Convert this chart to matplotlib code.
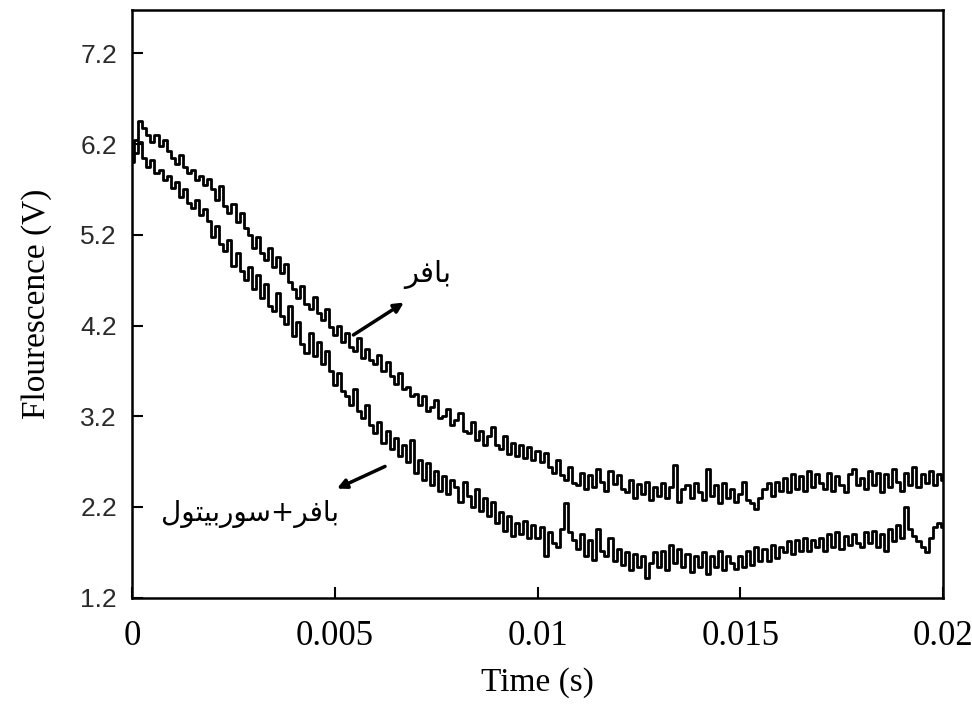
import matplotlib.pyplot as plt
import numpy as np

# time axis in ms (0.1 ms steps)
time_ms = np.arange(0, 201) * 0.1

buffer_vals = [
    6.10, 6.25, 6.45, 6.38, 6.30, 6.22, 6.30, 6.18, 6.25, 6.12,
    6.05, 5.98, 6.08, 5.95, 5.88, 5.92, 5.80, 5.85, 5.75, 5.82,
    5.70, 5.58, 5.74, 5.52, 5.44, 5.54, 5.34, 5.44, 5.28, 5.20,
    5.06, 5.18, 5.00, 4.92, 5.06, 4.84, 4.96, 4.78, 4.88, 4.68,
    4.60, 4.50, 4.64, 4.44, 4.38, 4.52, 4.34, 4.26, 4.38, 4.18,
    4.10, 4.20, 4.02, 4.12, 3.96, 3.92, 4.06, 3.84, 3.94, 3.82,
    3.78, 3.88, 3.70, 3.80, 3.64, 3.56, 3.68, 3.50, 3.52, 3.42,
    3.44, 3.32, 3.42, 3.26, 3.30, 3.38, 3.18, 3.20, 3.28, 3.10,
    3.16, 3.24, 3.04, 3.02, 3.14, 2.94, 3.04, 2.88, 2.98, 3.08,
    2.88, 2.84, 2.98, 2.78, 2.90, 2.76, 2.88, 2.74, 2.86, 2.72,
    2.82, 2.70, 2.80, 2.64, 2.58, 2.72, 2.55, 2.50, 2.64, 2.46,
    2.44, 2.58, 2.40, 2.55, 2.42, 2.62, 2.48, 2.38, 2.60, 2.45,
    2.55, 2.40, 2.36, 2.50, 2.30, 2.45, 2.34, 2.48, 2.28, 2.42,
    2.32, 2.46, 2.30, 2.42, 2.66, 2.26, 2.40, 2.44, 2.30, 2.46,
    2.36, 2.28, 2.62, 2.32, 2.44, 2.24, 2.46, 2.30, 2.40, 2.26,
    2.34, 2.48, 2.28, 2.24, 2.18, 2.30, 2.40, 2.46, 2.32, 2.48,
    2.38, 2.52, 2.36, 2.56, 2.40, 2.54, 2.38, 2.60, 2.42, 2.56,
    2.46, 2.40, 2.58, 2.38, 2.54, 2.44, 2.36, 2.56, 2.62, 2.44,
    2.52, 2.40, 2.60, 2.44, 2.58, 2.36, 2.56, 2.42, 2.62, 2.48,
    2.38, 2.58, 2.44, 2.64, 2.42, 2.56, 2.46, 2.60, 2.44, 2.56,
    2.50,
]

sorbitol_vals = [
    6.00, 6.10, 6.22, 6.05, 5.95, 6.02, 5.88, 5.92, 5.80, 5.85,
    5.72, 5.78, 5.62, 5.70, 5.55, 5.50, 5.58, 5.42, 5.48, 5.35,
    5.18, 5.30, 5.10, 5.02, 5.14, 4.86, 5.00, 4.80, 4.70, 4.84,
    4.60, 4.76, 4.50, 4.66, 4.42, 4.36, 4.56, 4.30, 4.22, 4.42,
    4.08, 4.24, 4.00, 3.90, 4.12, 3.86, 4.02, 3.78, 3.92, 3.70,
    3.54, 3.68, 3.48, 3.42, 3.32, 3.50, 3.26, 3.18, 3.32, 3.10,
    3.02, 3.14, 2.90, 3.04, 2.84, 2.96, 2.76, 2.88, 2.70, 2.94,
    2.58, 2.72, 2.50, 2.68, 2.44, 2.60, 2.38, 2.54, 2.34, 2.50,
    2.42, 2.26, 2.48, 2.32, 2.20, 2.40, 2.16, 2.30, 2.10, 2.26,
    2.02, 2.14, 1.94, 2.10, 1.88, 2.02, 1.90, 2.04, 1.86, 2.00,
    1.86, 1.98, 1.66, 1.92, 1.80, 1.76, 1.96, 2.24, 1.92, 1.84,
    1.74, 1.90, 1.66, 1.84, 1.62, 1.96, 1.72, 1.66, 1.86, 1.60,
    1.74, 1.56, 1.70, 1.50, 1.68, 1.54, 1.66, 1.42, 1.58, 1.70,
    1.54, 1.72, 1.50, 1.78, 1.58, 1.74, 1.54, 1.68, 1.48, 1.66,
    1.54, 1.70, 1.46, 1.66, 1.54, 1.72, 1.50, 1.66, 1.58, 1.52,
    1.66, 1.54, 1.72, 1.56, 1.76, 1.60, 1.74, 1.60, 1.78, 1.64,
    1.76, 1.70, 1.82, 1.68, 1.84, 1.72, 1.86, 1.72, 1.84, 1.76,
    1.86, 1.72, 1.90, 1.76, 1.92, 1.74, 1.88, 1.78, 1.90, 1.80,
    1.76, 1.92, 1.80, 1.94, 1.76, 1.90, 1.72, 1.96, 1.82, 2.00,
    1.86, 2.20, 1.96, 1.88, 1.82, 1.76, 1.70, 1.86, 1.98, 2.02,
    1.98,
]

yticks = [1.2, 2.2, 3.2, 4.2, 5.2, 6.2, 7.2]
xticks = [0, 0.005, 0.01, 0.015, 0.02]
xtick_labels = ['0', '0.005', '0.01', '0.015', '0.02']

# Arabic labels, written as presentation forms in visual (left-to-right) order
label_buffer = '\uFEAE\uFED3\uFE8E\uFE91'  # بافر
label_sorbitol = ('\uFEDD\uFEEE\uFE98\uFEF4\uFE91\uFEAD\uFEEE\uFEB3'
                  '+\uFEAE\uFED3\uFE8E\uFE91')  # بافر+سوربيتول

fig = plt.figure(figsize=(9.72, 7.04), dpi=100)
ax = fig.add_axes([0.136, 0.151, 0.834, 0.835])

t = np.array(time_ms) / 1000.0
ax.plot(t, buffer_vals, color='black', lw=2.0, drawstyle='steps-mid')
ax.plot(t, sorbitol_vals, color='black', lw=2.0, drawstyle='steps-mid')

ax.set_xlim(0, 0.02)
ax.set_ylim(1.2, 7.68)
ax.set_yticks(yticks)
ax.set_yticklabels(['%.1f' % v for v in yticks], fontfamily='Liberation Sans',
                   fontsize=19, color='#2a2a2a')
ax.set_xticks(xticks)
ax.set_xticklabels(xtick_labels, fontfamily='Liberation Serif', fontsize=25)
ax.tick_params(direction='in', length=8, width=1.5)
ax.tick_params(axis='x', pad=16)
ax.tick_params(axis='y', pad=11)
for s in ax.spines.values():
    s.set_linewidth(1.8)

ax.set_xlabel('Time (s)', fontfamily='Liberation Serif', fontsize=24, labelpad=10)
ax.set_ylabel('Flourescence (V)', fontfamily='Liberation Serif', fontsize=24, labelpad=20)

# annotations
ax.annotate('', xy=(0.00676, 4.47), xytext=(0.0054, 4.08),
            arrowprops=dict(arrowstyle='-|>', color='black', lw=2.5, mutation_scale=14))
ax.text(0.0073, 4.76, label_buffer, fontfamily=['DejaVu Sans'], fontsize=21,
        ha='center', va='center')
ax.annotate('', xy=(0.00499, 2.39), xytext=(0.0063, 2.66),
            arrowprops=dict(arrowstyle='-|>', color='black', lw=2.5, mutation_scale=14))
ax.text(0.0029, 2.12, label_sorbitol, fontfamily=['DejaVu Sans'], fontsize=20,
        ha='center', va='center')

fig.savefig('out.png', dpi=100)
